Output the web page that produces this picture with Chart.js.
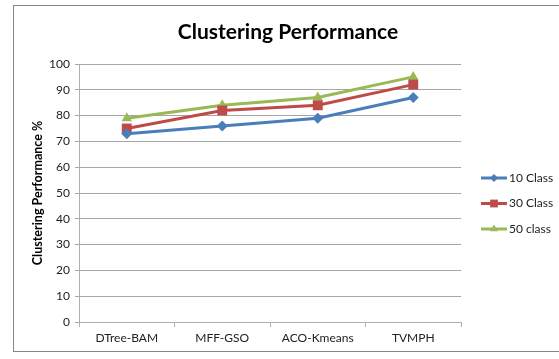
<!DOCTYPE html>
<html>
<head>
<meta charset="utf-8">
<script src="https://cdn.jsdelivr.net/npm/chart.js@4/dist/chart.umd.min.js"></script>
<style>
  html, body { margin: 0; padding: 0; background: #fff; }
  #wrap { position: relative; width: 559px; height: 359px; }
  #frame { position: absolute; left: 13px; top: 5px; width: 560px; height: 347px; border: 1.5px solid #868686; box-sizing: border-box; pointer-events: none; }
  canvas { position: absolute; left: 0; top: 0; }
</style>
</head>
<body>
<div id="wrap">
  <canvas id="c" width="559" height="359"></canvas>
  <div id="frame"></div>
</div>
<script>
const categories = ["DTree-BAM", "MFF-GSO", "ACO-Kmeans", "TVMPH"];
const seriesNames = ["10 Class", "30 Class", "50 class"];
const class10 = [73, 76, 79, 87];
const class30 = [75, 82, 84, 92];
const class50 = [79, 84, 87, 95];
const yTicks = [0, 10, 20, 30, 40, 50, 60, 70, 80, 90, 100];
const chartTitle = "Clustering Performance";
const yTitle = "Clustering Performance %";

const FONT = "Lato, 'Liberation Sans', sans-serif";
const colors = ["#4A7EBB", "#BE4B48", "#98B954"];
const pStyles = ["rectRot", "rect", "triangle"];
const pRadius = [5.5, 7, 6];
const legendRadius = [4, 5.5, 4.5];

const datasets = [class10, class30, class50].map((d, i) => ({
  label: seriesNames[i],
  data: d,
  borderColor: colors[i],
  backgroundColor: colors[i],
  borderWidth: 3,
  pointStyle: pStyles[i],
  pointRadius: pRadius[i],
  pointBorderWidth: 0,
  tension: 0
}));

const extrasPlugin = {
  id: 'extras',
  afterDraw(chart) {
    const ctx = chart.ctx;
    ctx.save();
    ctx.fillStyle = '#000';
    ctx.font = "bold 21px " + FONT;
    ctx.textAlign = 'center';
    ctx.textBaseline = 'middle';
    ctx.fillText(chartTitle, 288, 32);
    ctx.restore();
    const x0 = 481, x1 = 507, yStart = 178, step = 25.5;
    chart.data.datasets.forEach((ds, i) => {
      const y = yStart + i * step;
      ctx.save();
      ctx.strokeStyle = ds.borderColor;
      ctx.lineWidth = 3;
      ctx.beginPath(); ctx.moveTo(x0, y); ctx.lineTo(x1, y); ctx.stroke();
      ctx.fillStyle = ds.borderColor;
      ctx.strokeStyle = ds.borderColor;
      Chart.helpers.drawPoint(ctx, { pointStyle: ds.pointStyle, radius: legendRadius[i], borderWidth: 0 }, (x0 + x1) / 2, y);
      ctx.fillStyle = '#222';
      ctx.font = "12px " + FONT;
      ctx.textBaseline = 'middle';
      ctx.textAlign = 'left';
      ctx.fillText(ds.label, x1 + 2, y);
      ctx.restore();
    });
  }
};

new Chart(document.getElementById('c'), {
  type: 'line',
  data: { labels: categories, datasets },
  plugins: [extrasPlugin],
  options: {
    responsive: false,
    animation: false,
    devicePixelRatio: 1,
    layout: { padding: { top: 64, left: 30, right: 98, bottom: 0 } },
    plugins: {
      legend: { display: false },
      tooltip: { enabled: false },
      title: { display: false }
    },
    scales: {
      x: {
        offset: true,
        grid: { offset: true, drawOnChartArea: false, drawTicks: true, tickLength: 5, color: '#b0b0b0' },
        border: { color: '#b0b0b0', width: 1 },
        ticks: { color: '#222', font: { family: FONT, size: 12 }, padding: 4, maxRotation: 0 },
        afterFit(s) { s.height = 359 - 322; }
      },
      y: {
        min: 0, max: 100,
        afterBuildTicks(s) { s.ticks = yTicks.map(v => ({ value: v })); },
        grid: { color: '#a6a6a6', tickLength: 4, drawTicks: true },
        border: { color: '#b0b0b0', width: 1 },
        ticks: { color: '#222', font: { family: FONT, size: 12 }, padding: 5 },
        title: { display: true, text: yTitle, color: '#000', font: { family: FONT, size: 12.5, weight: 'bold' }, padding: { top: 0, bottom: 4 } },
        afterFit(s) { s.width = 79 - 30; }
      }
    }
  }
});
</script>
</body>
</html>
